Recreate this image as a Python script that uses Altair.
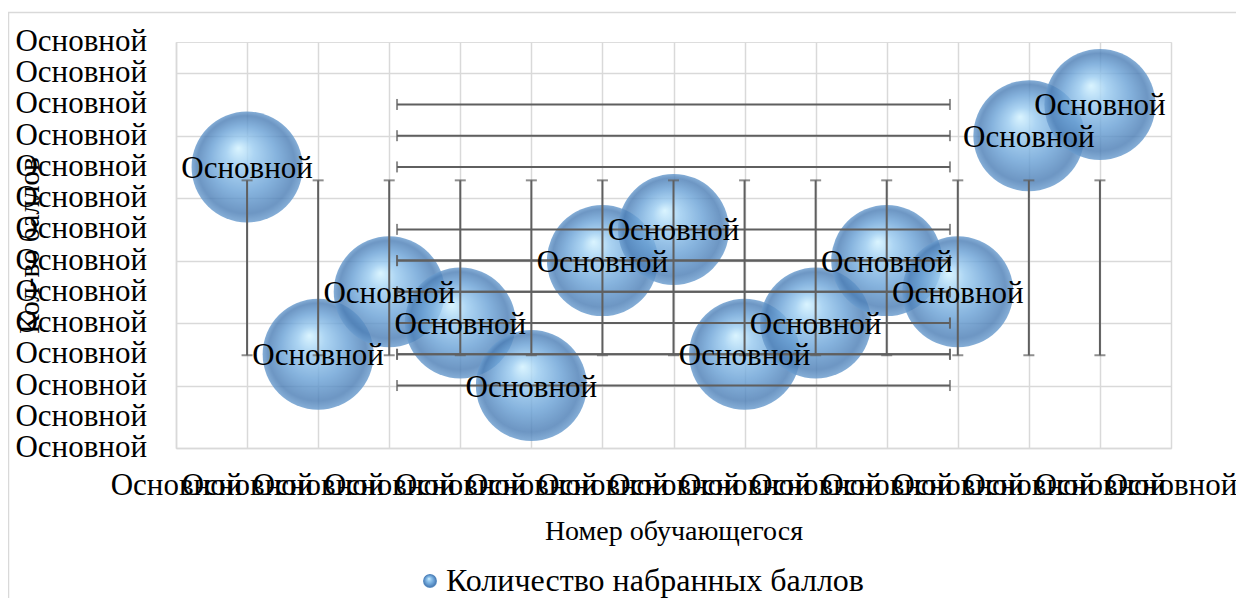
import altair as alt
import pandas as pd

# ---- data ----
student = [1, 2, 3, 4, 5, 6, 7, 8, 9, 10, 11, 12, 13]
points = [9, 3, 5, 4, 2, 6, 7, 3, 4, 6, 5, 10, 11]
label_text = ["Основной"] * 13
series_name = "Количество набранных баллов"

# standard-deviation error bars as drawn
y_err_low, y_err_high = 2.97, 8.57
x_err_low, x_err_high = 3.11, 10.89

x_ticks = list(range(0, 15))
y_ticks = list(range(0, 14))
tick_label = "Основной"

df = pd.DataFrame({
    "student": student,
    "points": points,
    "label": label_text,
    "series": [series_name] * 13,
    "ylo": [y_err_low] * 13,
    "yhi": [y_err_high] * 13,
    "xlo": [x_err_low] * 13,
    "xhi": [x_err_high] * 13,
})
ytick_df = pd.DataFrame({"tick": y_ticks, "text": [tick_label] * len(y_ticks)})

FONT = "Liberation Serif"
GRID = "#d9d9d9"
BAR = "#5f5f5f"
LABEL_SIZE = 31

sphere = {
    "gradient": "radial",
    "x1": 0.42, "y1": 0.33, "r1": 0.0,
    "x2": 0.5, "y2": 0.5, "r2": 0.5,
    "stops": [
        {"offset": 0.0, "color": "#d2f2ff"},
        {"offset": 0.25, "color": "#9acbf0"},
        {"offset": 0.6, "color": "#6ba2d6"},
        {"offset": 0.88, "color": "#4d7fb6"},
        {"offset": 1.0, "color": "#6a9cce"},
    ],
}

xscale = alt.Scale(domain=[0, 14], nice=False, zero=False)
yscale = alt.Scale(domain=[0, 13], nice=False, zero=False)

xaxis = alt.Axis(
    values=x_ticks, labelExpr=f"'{tick_label}'", grid=True, gridColor=GRID,
    gridWidth=1.5, domainColor=GRID, domainWidth=1.5, ticks=False,
    labelFont=FONT, labelFontSize=LABEL_SIZE, labelColor="black", labelPadding=22,
    labelOverlap=False, labelBound=False, labelFlush=False,
    title="Номер обучающегося", titleFont=FONT, titleFontSize=28,
    titleFontWeight="normal", titleColor="black", titlePadding=17,
)
yaxis = alt.Axis(
    values=y_ticks, labels=False, grid=True, gridColor=GRID,
    gridWidth=1.5, domainColor=GRID, domainWidth=1.5, ticks=False,
    title="Кол-во баллов", titleFont=FONT, titleFontSize=29,
    titleFontWeight="normal", titleColor="black", titleAngle=270,
    titleX=-147, titleY=203, titleAlign="center", titleBaseline="middle",
)

base = alt.Chart(df)

border = alt.Chart(pd.DataFrame({"a": [0]})).mark_rect(
    fill="transparent", stroke=GRID, strokeWidth=1.5
).encode(
    x=alt.value(-167.5), x2=alt.value(1200), y=alt.value(-29.5), y2=alt.value(700)
)

bubbles = base.mark_point(
    filled=True, fill=sphere, size=12321, opacity=0.82, strokeWidth=0
).encode(
    x=alt.X("student:Q", scale=xscale, axis=xaxis),
    y=alt.Y("points:Q", scale=yscale, axis=yaxis),
    shape=alt.Shape(
        "series:N", scale=alt.Scale(range=["circle"]),
        legend=alt.Legend(
            title=None, orient="none", legendX=238, legendY=523,
            labelFont=FONT, labelFontSize=32, labelColor="black",
            labelLimit=0, symbolSize=196, labelOffset=0,
            symbolFillColor="#6fa5d8", symbolStrokeColor="#4f7fb5",
            symbolStrokeWidth=0.8, symbolOpacity=1,
        ),
    ),
)

ylabels = alt.Chart(ytick_df).mark_text(
    font=FONT, fontSize=LABEL_SIZE, color="black", align="right", baseline="middle"
).encode(
    x=alt.value(-29),
    y=alt.Y("tick:Q", scale=yscale),
    text="text:N",
)

vbar = base.mark_rule(color=BAR, strokeWidth=2).encode(
    x="student:Q", y="ylo:Q", y2="yhi:Q"
)
vcap_lo = base.mark_tick(color=BAR, orient="horizontal", size=11, thickness=2).encode(
    x="student:Q", y="ylo:Q"
)
vcap_hi = base.mark_tick(color=BAR, orient="horizontal", size=11, thickness=2).encode(
    x="student:Q", y="yhi:Q"
)
hbar = base.mark_rule(color=BAR, strokeWidth=2).encode(
    y="points:Q", x="xlo:Q", x2="xhi:Q"
)
hcap_lo = base.mark_tick(color=BAR, orient="vertical", size=11, thickness=2).encode(
    x="xlo:Q", y="points:Q"
)
hcap_hi = base.mark_tick(color=BAR, orient="vertical", size=11, thickness=2).encode(
    x="xhi:Q", y="points:Q"
)

labels = base.mark_text(
    font=FONT, fontSize=LABEL_SIZE, color="black", align="center", baseline="middle",
    dy=2,
).encode(x="student:Q", y="points:Q", text="label:N")

chart = alt.layer(
    border, bubbles, ylabels, vbar, vcap_lo, vcap_hi, hbar, hcap_lo, hcap_hi, labels
).properties(
    width=995, height=406,
    autosize=alt.AutoSizeParams(type="none"),
    padding={"left": 168, "top": 34, "right": 65, "bottom": 150},
).configure_view(stroke=GRID, strokeWidth=1.5).configure(background="white")

chart.save("out.html", embed_options={"renderer": "svg", "actions": False})
